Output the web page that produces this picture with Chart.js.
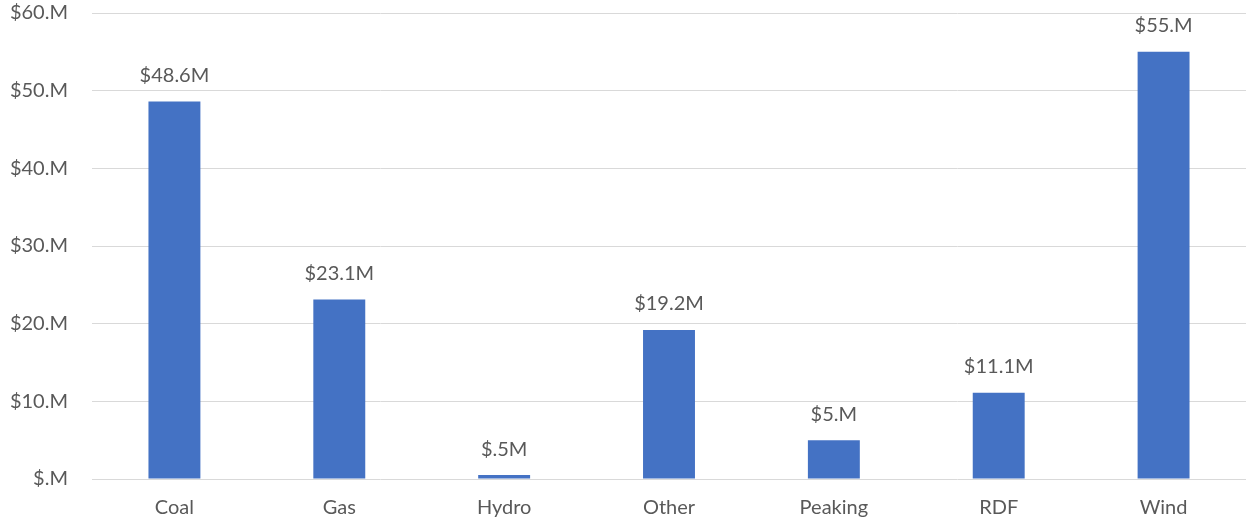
<!DOCTYPE html>
<html>
<head>
<meta charset="utf-8">
<script src="https://cdn.jsdelivr.net/npm/chart.js@4.4.1/dist/chart.umd.min.js"></script>
<style>
  html, body { margin: 0; padding: 0; background: #ffffff; }
  #wrap { width: 1246px; height: 522px; position: relative; }
</style>
</head>
<body>
<div id="wrap"><canvas id="c"></canvas></div>
<script>
// Revenue by fuel type, in millions of dollars
const categories = ['Coal', 'Gas', 'Hydro', 'Other', 'Peaking', 'RDF', 'Wind'];
const revenueMillions = [48.6, 23.1, 0.5, 19.2, 5.0, 11.1, 55.0];
const yTicks = [0, 10, 20, 30, 40, 50, 60];

const FONT = "Lato, 'Open Sans', sans-serif";
const TEXT = '#595959';
const SIZE = 20;

// Accounting-style label: one optional decimal, no leading zero
function money(v) {
  let s = v.toFixed(1);
  if (s.endsWith('0')) s = s.slice(0, -1);
  if (s.startsWith('0')) s = s.slice(1);
  return '$' + s + 'M';
}
function tickMoney(v) {
  let s = money(v);
  return s.slice(0, -1) + (s.includes('.') ? '' : '.') + 'M';
}

const valueLabels = {
  id: 'valueLabels',
  afterDatasetsDraw(chart) {
    const ctx = chart.ctx;
    const meta = chart.getDatasetMeta(0);
    ctx.save();
    ctx.font = SIZE + 'px ' + FONT;
    ctx.fillStyle = TEXT;
    ctx.textAlign = 'center';
    ctx.textBaseline = 'bottom';
    meta.data.forEach((bar, i) => {
      ctx.fillText(money(revenueMillions[i]), bar.x, bar.y - 16);
    });
    ctx.restore();
  }
};

new Chart(document.getElementById('c'), {
  type: 'bar',
  data: {
    labels: categories,
    datasets: [{
      data: revenueMillions,
      backgroundColor: '#4472C4',
      borderWidth: 0,
      categoryPercentage: 1,
      barPercentage: 0.315
    }]
  },
  options: {
    responsive: true,
    maintainAspectRatio: false,
    animation: false,
    layout: { padding: { top: 13, right: 0, bottom: 0, left: 0 } },
    plugins: { legend: { display: false }, tooltip: { enabled: false } },
    scales: {
      x: {
        afterFit(scale) { scale.height = 43; scale.paddingLeft = 0; scale.paddingRight = 0; },
        grid: { display: false, drawTicks: false },
        border: { display: false },
        ticks: { color: TEXT, font: { family: FONT, size: SIZE }, padding: 17 }
      },
      y: {
        min: 0,
        max: 60,
        afterBuildTicks(scale) { scale.ticks = yTicks.map(v => ({ value: v })); },
        afterFit(scale) { scale.width = 92; scale.paddingTop = 0; scale.paddingBottom = 0; },
        grid: { color: '#d9d9d9', lineWidth: 1, drawTicks: false },
        border: { display: false },
        ticks: {
          color: TEXT,
          font: { family: FONT, size: SIZE },
          padding: 24,
          callback: v => tickMoney(v)
        }
      }
    }
  },
  plugins: [valueLabels]
});
</script>
</body>
</html>
